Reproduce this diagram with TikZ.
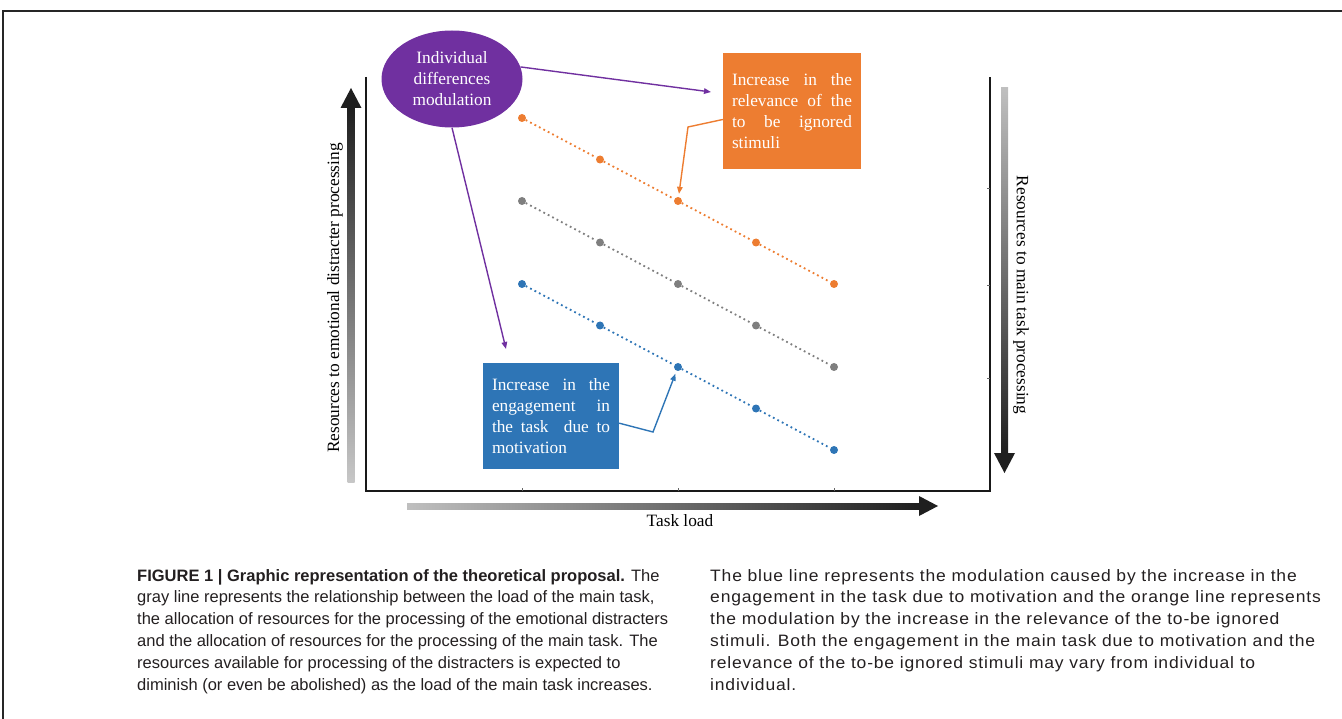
\documentclass[tikz,border=0pt]{standalone}
\usepackage{fontspec}
\setmainfont{Liberation Serif}
\newfontfamily\capfont{Liberation Sans}
\newfontfamily\capfontR[FakeStretch=1.06,LetterSpace=5]{Liberation Sans}
\usetikzlibrary{shapes.geometric,arrows.meta}
\definecolor{idpurple}{HTML}{7030A0}
\definecolor{idorange}{HTML}{ED7D31}
\definecolor{idblue}{HTML}{2E75B6}
\definecolor{idgray}{HTML}{7F7F7F}
\definecolor{captext}{HTML}{231F20}
\newcommand{\jline}[2]{\makebox[#1][s]{#2}}
\begin{document}
\begin{tikzpicture}[x=1pt,y=-1pt,
  serif/.style={font=\fontsize{17.3}{21}\selectfont},
  dot/.style={circle, inner sep=0pt, minimum size=8pt},
  dotline/.style={line width=1.8pt, dash pattern=on 1.8pt off 3.2pt},
  conn/.style={line width=1.4pt, -{Triangle[length=7pt,width=5.5pt]}},
  txtbox/.style={rectangle, inner sep=0pt, text=white, serif, align=left},
  capstyle/.style={text=captext, align=left, inner sep=0pt},
  axisline/.style={line width=1.6pt, black!90}
]
\useasboundingbox (0,0) rectangle (1342,719);

% outer frame
\draw[line width=1.6pt, black!85] (3,719) -- (3,11) -- (1342,11);

% axes box
\draw[axisline] (366,77) -- (366,491) -- (990,491) -- (990,77);
\foreach \x in {522,678,834} \draw[black!60, line width=0.6pt] (\x,491) -- (\x,488);
\foreach \y in {188,285,378} \draw[black!60, line width=0.6pt] (990,\y) -- (987,\y);

% gradient arrows
\shade[bottom color=black!22, top color=black!88] (347.5,482) rectangle (354.5,107);
\fill[black!88] (340.5,108) -- (351,88) -- (361.5,108) -- cycle;
\shade[top color=black!25, bottom color=black!88] (1001,88) rectangle (1008,454);
\fill[black!88] (994,453) -- (1015,453) -- (1004.5,473) -- cycle;
\shade[left color=black!25, right color=black!88] (407,503) rectangle (920,509);
\fill[black!88] (919,496) -- (938,506) -- (919,516) -- cycle;

% axis labels
\node[serif, rotate=90] (ylab) at (335,298) {Resources to emotional distracter processing};
\node[serif, rotate=-90] (y2lab) at (1021,295) {Resources to main task processing};
\node[serif] (xlab) at (680,521) {Task load};

% data series
\foreach \i in {1,...,5} {
  \node[dot, fill=idorange] (o\i) at ({522+78*(\i-1)},{118+41.5*(\i-1)}) {};
  \node[dot, fill=idgray] (g\i) at ({522+78*(\i-1)},{201+41.5*(\i-1)}) {};
  \node[dot, fill=idblue] (b\i) at ({522+78*(\i-1)},{284+41.5*(\i-1)}) {};
}
\draw[dotline, idorange] (o1) -- (o2) -- (o3) -- (o4) -- (o5);
\draw[dotline, idgray] (g1) -- (g2) -- (g3) -- (g4) -- (g5);
\draw[dotline, idblue] (b1) -- (b2) -- (b3) -- (b4) -- (b5);

% ellipse
\node[ellipse, fill=idpurple, minimum width=141pt, minimum height=97pt, inner sep=0pt,
      text=white, serif, align=center] (idm) at (452,79)
  {Individual\\differences\\modulation};

% orange box
\node[txtbox, fill=idorange, minimum width=138pt, minimum height=116pt] (obox) at (792,111)
  {\jline{120pt}{Increase in the}\\ \jline{120pt}{relevance of the}\\ \jline{120pt}{to be ignored}\\ \makebox[120pt][l]{stimuli}};

% blue box
\node[txtbox, fill=idblue, minimum width=136pt, minimum height=105pt] (bbox) at (551,416)
  {\jline{118pt}{Increase in the}\\ \jline{118pt}{engagement in}\\ \jline{118pt}{the task \ due to}\\ \makebox[118pt][l]{motivation}};

% connectors
\coordinate (ptip1) at (711,92);
\coordinate (ptip2) at (506,349);
\draw[conn, idpurple] (idm.10) -- (ptip1);
\draw[conn, idpurple] (idm.south) -- (ptip2);
\coordinate (obend) at (688,127);
\draw[conn, idorange, shorten >=3pt] (obox.187) -- (obend) -- (o3);
\coordinate (bbend) at (653,432);
\draw[conn, idblue, shorten >=3pt] (bbox.-6) -- (bbend) -- (b3);

% caption
\node[capstyle, font=\capfont\fontsize{16.5}{21.8}\selectfont, anchor=base west] (capL) at (137,690)
  {\textbf{FIGURE 1 | Graphic representation of the theoretical proposal.} The\\
   gray line represents the relationship between the load of the main task,\\
   the allocation of resources for the processing of the emotional distracters\\
   and the allocation of resources for the processing of the main task. The\\
   resources available for processing of the distracters is expected to\\
   diminish (or even be abolished) as the load of the main task increases.};
\node[capstyle, font=\capfontR\fontsize{16.5}{21.8}\selectfont, anchor=base west] (capR) at (710,690)
  {The blue line represents the modulation caused by the increase in the\\
   engagement in the task due to motivation and the orange line represents\\
   the modulation by the increase in the relevance of the to-be ignored\\
   stimuli. Both the engagement in the main task due to motivation and the\\
   relevance of the to-be ignored stimuli may vary from individual to\\
   individual.};
\end{tikzpicture}
\end{document}
